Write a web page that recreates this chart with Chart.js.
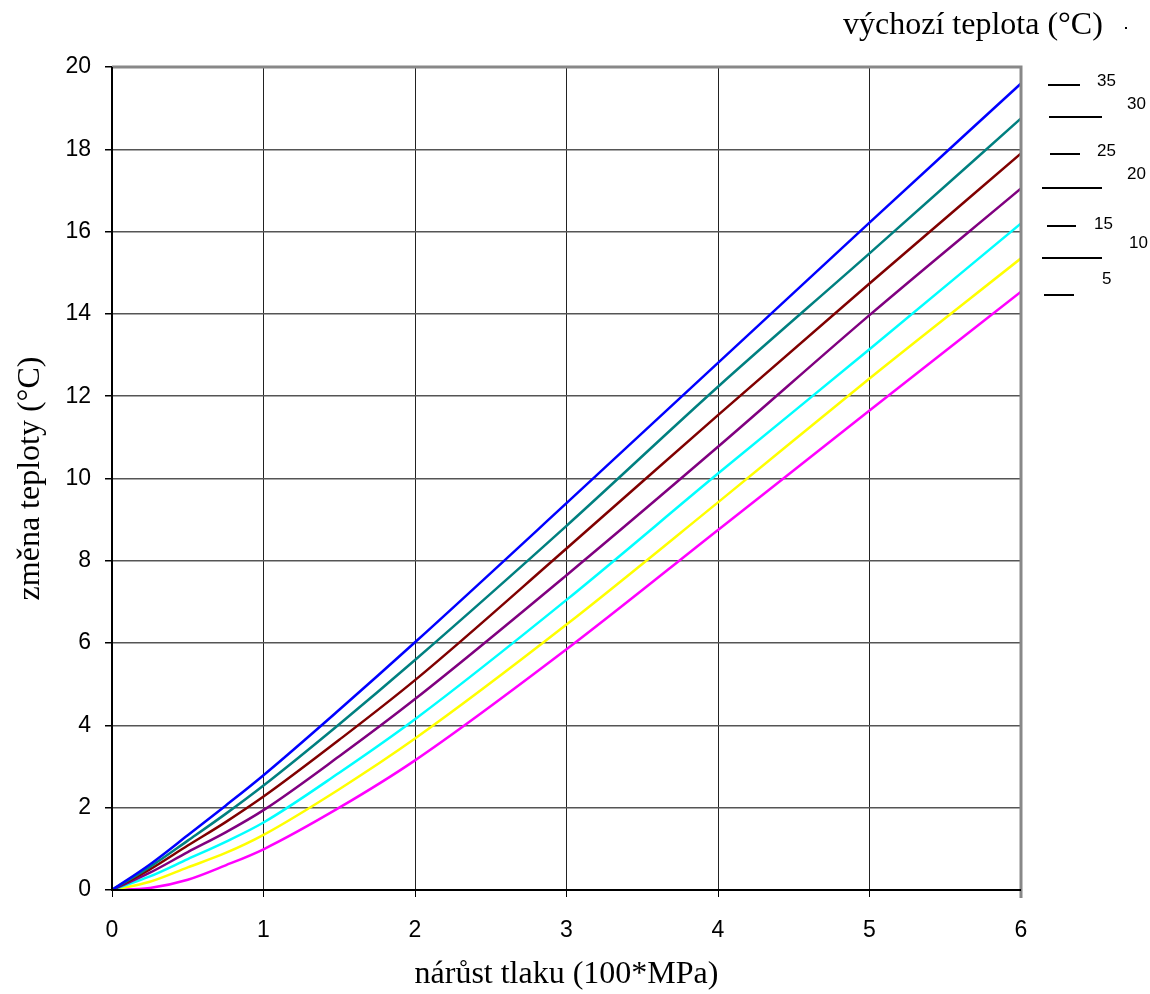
<!DOCTYPE html>
<html>
<head>
<meta charset="utf-8">
<script src="https://cdn.jsdelivr.net/npm/chart.js"></script>
<style>
  body { margin: 0; background: #fff; }
  #wrap { position: relative; width: 1150px; height: 994px; }
  .lg { position: absolute; font-family: "Liberation Sans", Arial, sans-serif; font-size: 17px; color: #000; }
  .ln { position: absolute; height: 2px; background: #000; }
  #ttl { position: absolute; left: 843px; top: 5px; font-family: "Liberation Serif", "Times New Roman", serif; font-size: 32px; }
</style>
</head>
<body>
<div id="wrap">
  <canvas id="chart" width="1150" height="994"></canvas>
  <div id="ttl">výchozí teplota (°C)</div>
  <div class="ln" style="left:1125px;top:27px;width:2px;height:2px;"></div>
  <div id="legend"></div>
</div>
<script>
// pressure increase (x 100 MPa)
const pressure = [0, 0.25, 0.5, 0.75, 1, 1.5, 2, 3, 4, 5, 6];
// starting temperature (°C) per series
const startTemps = [35, 30, 25, 20, 15, 10, 5];
const t35 = [0, 0.62, 1.33, 2.05, 2.79, 4.38, 6.02, 9.40, 12.81, 16.22, 19.60];
const t30 = [0, 0.56, 1.20, 1.85, 2.54, 4.03, 5.59, 8.85, 12.23, 15.47, 18.75];
const t25 = [0, 0.50, 1.08, 1.65, 2.27, 3.65, 5.10, 8.30, 11.54, 14.74, 17.90];
const t20 = [0, 0.42, 0.92, 1.40, 1.94, 3.25, 4.64, 7.65, 10.77, 13.97, 17.05];
const t15 = [0, 0.33, 0.75, 1.17, 1.64, 2.85, 4.15, 7.05, 10.12, 13.14, 16.20];
const t10 = [0, 0.20, 0.55, 0.90, 1.34, 2.45, 3.68, 6.45, 9.42, 12.43, 15.35];
const t5  = [0, 0.05, 0.25, 0.60, 0.99, 2.00, 3.15, 5.85, 8.75, 11.65, 14.54];
const xTicks = [0, 1, 2, 3, 4, 5, 6];
const yTicks = [0, 2, 4, 6, 8, 10, 12, 14, 16, 18, 20];

const series = [t35, t30, t25, t20, t15, t10, t5];
const colors = ['#0000ff', '#008080', '#800000', '#800080', '#00ffff', '#ffff00', '#ff00ff'];

// legend (black sample lines, staggered like the original)
const legendPos = [
  { lx: 1048, lw: 32, ly: 84, tx: 1097, ty: 71 },
  { lx: 1049, lw: 53, ly: 116, tx: 1127, ty: 94 },
  { lx: 1050, lw: 30, ly: 153, tx: 1097, ty: 141 },
  { lx: 1042, lw: 60, ly: 187, tx: 1127, ty: 164 },
  { lx: 1047, lw: 29, ly: 225, tx: 1094, ty: 214 },
  { lx: 1042, lw: 60, ly: 257, tx: 1129, ty: 233 },
  { lx: 1044, lw: 30, ly: 294, tx: 1102, ty: 269 }
];
const legendEl = document.getElementById('legend');
startTemps.forEach((t, i) => {
  const p = legendPos[i];
  legendEl.insertAdjacentHTML('beforeend',
    '<div class="ln" style="left:' + p.lx + 'px;top:' + p.ly + 'px;width:' + p.lw + 'px;"></div>' +
    '<div class="lg" style="left:' + p.tx + 'px;top:' + p.ty + 'px;">' + t + '</div>');
});

const frame = {
  id: 'frame',
  afterDatasetsDraw(chart) {
    const { ctx, chartArea: a } = chart;
    ctx.save();
    ctx.strokeStyle = '#888';
    ctx.lineWidth = 3;
    ctx.beginPath();
    ctx.moveTo(a.left, a.top);
    ctx.lineTo(a.right, a.top);
    ctx.lineTo(a.right, a.bottom + 8);
    ctx.stroke();
    ctx.strokeStyle = '#000';
    ctx.lineWidth = 2;
    ctx.beginPath();
    ctx.moveTo(a.left, a.top);
    ctx.lineTo(a.left, a.bottom);
    ctx.lineTo(a.right, a.bottom);
    ctx.stroke();
    ctx.restore();
  }
};

new Chart(document.getElementById('chart'), {
  type: 'line',
  data: {
    datasets: series.map((s, i) => ({
      label: String(startTemps[i]),
      data: pressure.map((x, j) => ({ x: x, y: s[j] })),
      borderColor: colors[i],
      borderWidth: 2.5,
      pointRadius: 0,
      cubicInterpolationMode: 'monotone',
      fill: false
    }))
  },
  options: {
    responsive: false,
    animation: false,
    layout: { padding: { left: 0, top: 67, right: 129, bottom: 0 } },
    plugins: { legend: { display: false }, tooltip: { enabled: false } },
    scales: {
      x: {
        type: 'linear',
        min: 0, max: 6,
        afterFit(s) { s.height = 104; },
        afterBuildTicks(s) { s.ticks = xTicks.map(v => ({ value: v })); },
        grid: { color: '#222', lineWidth: 1, tickLength: 7, tickColor: '#000' },
        border: { display: false },
        ticks: { color: '#000', padding: 20, font: { family: 'Liberation Sans', size: 23 } },
        title: {
          display: true, text: 'nárůst tlaku (100*MPa)', color: '#000',
          font: { family: 'Liberation Serif', size: 32 }, padding: { top: 0, bottom: 0 }
        }
      },
      y: {
        min: 0, max: 20,
        afterFit(s) { s.width = 112; },
        afterBuildTicks(s) { s.ticks = yTicks.map(v => ({ value: v })); },
        grid: { color: '#555', lineWidth: 1.5, tickLength: 7, tickColor: '#000' },
        border: { display: false },
        ticks: { color: '#000', padding: 14, font: { family: 'Liberation Sans', size: 23 } },
        title: {
          display: true, text: 'změna teploty (°C)', color: '#000',
          font: { family: 'Liberation Serif', size: 32 }, padding: { top: 11, bottom: 0 }
        }
      }
    }
  },
  plugins: [frame]
});
</script>
</body>
</html>
